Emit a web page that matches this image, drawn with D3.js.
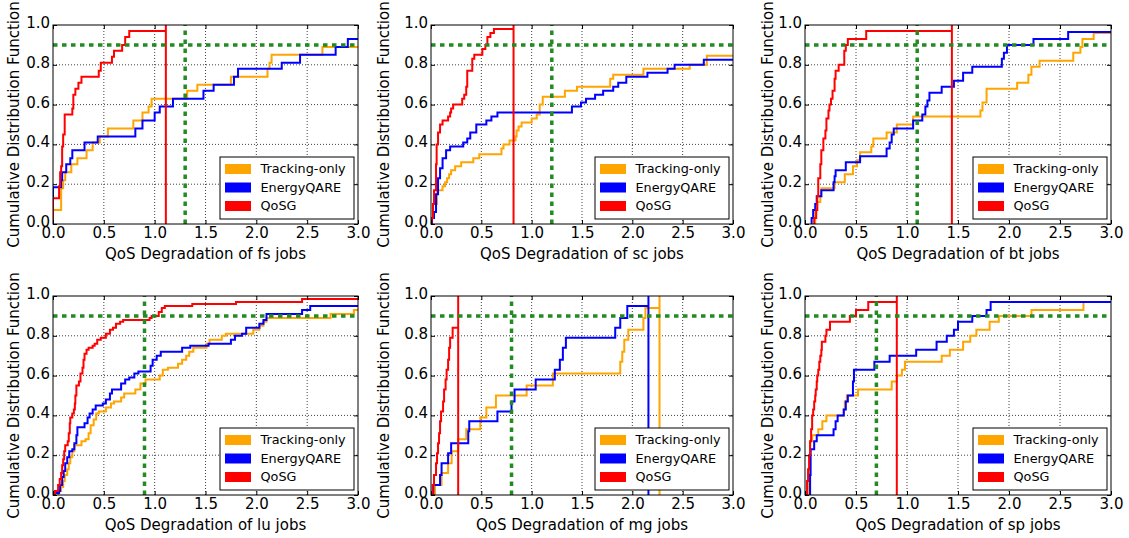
<!DOCTYPE html>
<html>
<head>
<meta charset="utf-8">
<script src="https://cdn.jsdelivr.net/npm/d3@7"></script>
<style>
body{margin:0;background:#fff;}
svg text{font-family:'DejaVu Sans',sans-serif;fill:#000;}
</style>
</head>
<body>
<svg id="chart"></svg>
<script>
//Categories, series and ticks
const jobTypes = ['fs','sc','bt','lu','mg','sp'];
const targetX = [1.3,1.2,1.1,0.9,0.8,0.7]; //green vertical marker per job type
const targetY = 0.9;
const seriesNames = ['Tracking-only','EnergyQARE','QoSG'];
const seriesColors = ['#ffa500','#0000ff','#ff0000'];
const xTicks = [0,0.5,1,1.5,2,2.5,3];
const yTicks = [0,0.2,0.4,0.6,0.8,1];

//CDF steps: [x where the step happens, cdf after the step]
const fsTracking = [[0,0.07],[0.08,0.18],[0.1,0.22],[0.12,0.26],[0.18,0.30],[0.24,0.33],[0.33,0.37],[0.39,0.41],[0.46,0.44],[0.54,0.48],[0.79,0.52],[0.88,0.56],[0.94,0.59],[0.97,0.63],[1.32,0.67],[1.42,0.70],[1.75,0.74],[2.11,0.78],[2.13,0.81],[2.15,0.85],[2.65,0.89]];
const fsEnergy = [[0,0.185],[0.08,0.22],[0.09,0.26],[0.13,0.30],[0.17,0.33],[0.19,0.37],[0.31,0.41],[0.44,0.44],[0.81,0.48],[0.88,0.52],[1.0,0.56],[1.05,0.59],[1.18,0.63],[1.48,0.67],[1.58,0.70],[1.78,0.74],[1.82,0.78],[2.25,0.81],[2.43,0.85],[2.78,0.89],[2.9,0.93]];
const fsQoSG = [[0,0.13],[0.06,0.19],[0.07,0.26],[0.08,0.29],[0.09,0.39],[0.1,0.45],[0.115,0.55],[0.19,0.58],[0.2,0.65],[0.22,0.68],[0.25,0.71],[0.28,0.74],[0.45,0.77],[0.47,0.81],[0.58,0.84],[0.6,0.87],[0.68,0.9],[0.71,0.94],[0.75,0.97],[1.11,1.0]];

const scTracking = [[0.01,0.03],[0.02,0.10],[0.06,0.17],[0.115,0.19],[0.14,0.21],[0.16,0.23],[0.18,0.25],[0.2,0.27],[0.24,0.29],[0.30,0.31],[0.42,0.33],[0.48,0.35],[0.70,0.38],[0.72,0.40],[0.78,0.42],[0.84,0.44],[0.85,0.47],[0.87,0.49],[0.9,0.51],[1.0,0.53],[1.05,0.55],[1.08,0.60],[1.11,0.64],[1.33,0.67],[1.45,0.69],[1.78,0.73],[1.81,0.75],[2.11,0.78],[2.57,0.80],[2.74,0.845]];
const scEnergy = [[0.01,0.03],[0.03,0.06],[0.05,0.15],[0.07,0.23],[0.09,0.28],[0.115,0.33],[0.15,0.37],[0.19,0.39],[0.32,0.41],[0.36,0.43],[0.39,0.46],[0.45,0.50],[0.55,0.52],[0.6,0.54],[0.66,0.56],[1.40,0.59],[1.49,0.61],[1.54,0.63],[1.63,0.65],[1.71,0.67],[1.81,0.69],[1.86,0.71],[1.94,0.74],[2.15,0.76],[2.35,0.78],[2.42,0.80],[2.71,0.825]];
const scQoSG = [[0.005,0.03],[0.02,0.10],[0.03,0.17],[0.05,0.30],[0.056,0.40],[0.07,0.46],[0.09,0.50],[0.115,0.52],[0.17,0.54],[0.19,0.56],[0.2,0.58],[0.22,0.60],[0.31,0.63],[0.33,0.65],[0.35,0.69],[0.36,0.77],[0.41,0.83],[0.43,0.85],[0.51,0.88],[0.54,0.90],[0.56,0.94],[0.59,0.96],[0.625,0.98],[0.82,1.0]];

const btTracking = [[0.1,0.07],[0.12,0.11],[0.15,0.14],[0.16,0.18],[0.29,0.21],[0.39,0.25],[0.47,0.29],[0.51,0.32],[0.54,0.36],[0.65,0.39],[0.67,0.43],[0.80,0.46],[0.90,0.50],[1.06,0.54],[1.72,0.57],[1.74,0.61],[1.78,0.68],[2.08,0.71],[2.19,0.75],[2.22,0.79],[2.30,0.82],[2.63,0.86],[2.70,0.89],[2.72,0.93],[2.83,0.96]];
const btEnergy = [[0.065,0.03],[0.08,0.07],[0.1,0.10],[0.115,0.14],[0.16,0.17],[0.28,0.21],[0.29,0.24],[0.30,0.27],[0.40,0.31],[0.54,0.34],[0.80,0.38],[0.83,0.41],[0.85,0.45],[0.87,0.48],[1.06,0.52],[1.15,0.55],[1.18,0.59],[1.20,0.62],[1.22,0.66],[1.34,0.69],[1.46,0.72],[1.55,0.76],[1.64,0.79],[1.93,0.83],[1.95,0.86],[1.98,0.90],[2.24,0.93],[2.58,0.965]];
const btQoSG = [[0.09,0.03],[0.11,0.07],[0.12,0.14],[0.13,0.23],[0.15,0.30],[0.16,0.37],[0.18,0.43],[0.2,0.47],[0.21,0.53],[0.23,0.57],[0.24,0.60],[0.255,0.63],[0.27,0.67],[0.29,0.73],[0.30,0.77],[0.33,0.80],[0.385,0.87],[0.40,0.90],[0.42,0.93],[0.60,0.97],[1.44,1.0]];

const luTracking = [[0.05,0.02],[0.08,0.04],[0.1,0.07],[0.115,0.10],[0.14,0.13],[0.155,0.16],[0.17,0.19],[0.19,0.22],[0.21,0.25],[0.28,0.27],[0.32,0.28],[0.35,0.31],[0.37,0.35],[0.4,0.38],[0.425,0.41],[0.45,0.42],[0.52,0.44],[0.57,0.46],[0.6,0.47],[0.67,0.49],[0.70,0.51],[0.81,0.53],[0.86,0.56],[0.91,0.58],[1.05,0.60],[1.08,0.63],[1.13,0.64],[1.23,0.66],[1.27,0.68],[1.31,0.70],[1.34,0.72],[1.38,0.74],[1.51,0.76],[1.54,0.78],[1.66,0.80],[1.70,0.81],[1.97,0.83],[2.03,0.85],[2.07,0.87],[2.10,0.89],[2.73,0.91],[2.96,0.93]];
const luEnergy = [[0.01,0.01],[0.06,0.02],[0.07,0.05],[0.09,0.09],[0.105,0.12],[0.12,0.16],[0.14,0.19],[0.16,0.22],[0.19,0.23],[0.21,0.26],[0.23,0.30],[0.24,0.34],[0.31,0.36],[0.34,0.39],[0.36,0.41],[0.39,0.43],[0.42,0.45],[0.49,0.46],[0.52,0.48],[0.56,0.51],[0.58,0.53],[0.67,0.56],[0.71,0.58],[0.75,0.59],[0.80,0.61],[0.84,0.62],[0.96,0.65],[0.98,0.68],[1.02,0.70],[1.06,0.72],[1.27,0.74],[1.35,0.75],[1.53,0.76],[1.75,0.78],[1.79,0.80],[1.86,0.81],[1.90,0.84],[2.03,0.86],[2.07,0.88],[2.10,0.91],[2.45,0.93],[2.53,0.95]];
const luQoSG = [[0.02,0.02],[0.05,0.05],[0.066,0.08],[0.08,0.11],[0.09,0.15],[0.1,0.18],[0.11,0.22],[0.12,0.25],[0.145,0.27],[0.155,0.31],[0.165,0.36],[0.17,0.39],[0.19,0.41],[0.205,0.43],[0.215,0.46],[0.22,0.50],[0.23,0.55],[0.255,0.57],[0.27,0.61],[0.29,0.64],[0.30,0.68],[0.31,0.71],[0.33,0.73],[0.35,0.74],[0.39,0.75],[0.41,0.76],[0.435,0.78],[0.47,0.79],[0.52,0.81],[0.56,0.83],[0.59,0.84],[0.62,0.86],[0.66,0.87],[0.69,0.88],[0.95,0.89],[0.97,0.90],[1.04,0.92],[1.07,0.94],[1.10,0.95],[1.37,0.96],[1.80,0.97],[2.45,0.985]];

const mgTracking = [[0.04,0.05],[0.105,0.11],[0.17,0.16],[0.205,0.22],[0.27,0.28],[0.35,0.33],[0.49,0.39],[0.55,0.44],[0.645,0.50],[0.95,0.55],[1.21,0.61],[1.88,0.67],[1.90,0.72],[1.92,0.78],[1.96,0.83],[2.11,0.89],[2.13,0.94],[2.27,1.0]];
const mgEnergy = [[0.023,0.05],[0.09,0.10],[0.105,0.16],[0.17,0.21],[0.20,0.26],[0.37,0.32],[0.38,0.37],[0.66,0.42],[0.80,0.47],[0.83,0.53],[1.04,0.58],[1.23,0.63],[1.28,0.68],[1.31,0.74],[1.34,0.79],[1.83,0.84],[1.88,0.89],[1.95,0.95],[2.16,1.0]];
const mgQoSG = [[0.017,0.05],[0.03,0.10],[0.05,0.16],[0.06,0.21],[0.07,0.26],[0.08,0.31],[0.09,0.37],[0.10,0.42],[0.12,0.47],[0.13,0.53],[0.145,0.58],[0.155,0.63],[0.17,0.68],[0.18,0.74],[0.19,0.79],[0.215,0.84],[0.27,1.0]];

const spTracking = [[0.04,0.13],[0.05,0.27],[0.07,0.30],[0.13,0.33],[0.17,0.37],[0.21,0.40],[0.38,0.43],[0.39,0.47],[0.41,0.50],[0.52,0.53],[0.85,0.57],[0.90,0.60],[0.95,0.63],[0.98,0.67],[1.34,0.70],[1.42,0.73],[1.55,0.77],[1.62,0.80],[1.68,0.83],[1.81,0.87],[1.90,0.90],[2.22,0.93],[2.73,0.97]];
const spEnergy = [[0.05,0.10],[0.055,0.23],[0.09,0.27],[0.115,0.30],[0.28,0.33],[0.30,0.37],[0.32,0.40],[0.38,0.43],[0.40,0.47],[0.42,0.50],[0.47,0.57],[0.48,0.63],[0.68,0.67],[0.83,0.70],[1.09,0.73],[1.29,0.77],[1.39,0.80],[1.46,0.83],[1.50,0.87],[1.64,0.90],[1.78,0.93],[1.82,0.97]];
const spQoSG = [[0.02,0.07],[0.03,0.13],[0.04,0.20],[0.05,0.27],[0.06,0.33],[0.07,0.40],[0.08,0.43],[0.09,0.47],[0.10,0.50],[0.105,0.53],[0.115,0.57],[0.12,0.60],[0.13,0.63],[0.14,0.67],[0.15,0.70],[0.16,0.73],[0.165,0.77],[0.20,0.80],[0.21,0.83],[0.245,0.87],[0.44,0.90],[0.50,0.93],[0.62,0.97],[0.90,1.0]];

const seriesByJob = [
	[fsTracking,fsEnergy,fsQoSG],
	[scTracking,scEnergy,scQoSG],
	[btTracking,btEnergy,btQoSG],
	[luTracking,luEnergy,luQoSG],
	[mgTracking,mgEnergy,mgQoSG],
	[spTracking,spEnergy,spQoSG]
];

//Set up DOM scaffolding
const width = 1129, height = 538;
const colX = [[53,358],[431,733],[805,1111]];
const rowY = [[25,224],[296,495]];
const ylabelX = [14,384,768];
const fontSize = 15;

const svg = d3.select('#chart')
	.attr('width',width)
	.attr('height',height);

svg.append('rect').attr('width',width).attr('height',height).attr('fill','#fff');

//hist-style outline: rise from 0 at the first step, drop back to 0 after the last one
function outline(steps){
	const pts = [[steps[0][0],0]].concat(steps);
	const last = steps[steps.length-1];
	if(last[1] >= 1) pts.push([last[0],0]);
	else pts.push([3.3,last[1]]);
	return pts;
}

jobTypes.forEach((job,i) => {
	const c = i % 3, r = Math.floor(i/3);
	const [l,rt] = colX[c];
	const [t,b] = rowY[r];

	const scaleX = d3.scaleLinear().domain([0,3]).range([l,rt]);
	const scaleY = d3.scaleLinear().domain([0,1]).range([b,t]);

	const plot = svg.append('g').attr('class','panel-'+job);

	plot.append('clipPath').attr('id','clip-'+job)
		.append('rect').attr('x',l).attr('y',t-1).attr('width',rt-l).attr('height',b-t+2);

	//grid
	plot.append('g').selectAll('line.gx')
		.data(xTicks.slice(1,-1))
		.enter().append('line')
		.attr('x1',d => scaleX(d)).attr('x2',d => scaleX(d))
		.attr('y1',t).attr('y2',b)
		.attr('stroke','#111').attr('stroke-width',0.8).attr('stroke-dasharray','1,2');
	plot.append('g').selectAll('line.gy')
		.data(yTicks.slice(1,-1))
		.enter().append('line')
		.attr('y1',d => scaleY(d)).attr('y2',d => scaleY(d))
		.attr('x1',l).attr('x2',rt)
		.attr('stroke','#111').attr('stroke-width',0.8).attr('stroke-dasharray','1,2');

	//steps
	const line = d3.line()
		.x(d => scaleX(d[0]))
		.y(d => scaleY(d[1]))
		.curve(d3.curveStepAfter);

	plot.append('g').attr('clip-path',`url(#clip-${job})`)
		.selectAll('path')
		.data(seriesByJob[i])
		.enter().append('path')
		.attr('d',d => line(outline(d)))
		.attr('fill','none')
		.attr('stroke',(d,k) => seriesColors[k])
		.attr('stroke-width',2);

	//green target markers
	const marks = plot.append('g').attr('clip-path',`url(#clip-${job})`);
	marks.append('line')
		.attr('x1',l).attr('x2',rt)
		.attr('y1',scaleY(targetY)).attr('y2',scaleY(targetY));
	marks.append('line')
		.attr('x1',scaleX(targetX[i])).attr('x2',scaleX(targetX[i]))
		.attr('y1',b).attr('y2',t);
	marks.selectAll('line')
		.attr('stroke','#228b22').attr('stroke-width',3.5).attr('stroke-dasharray','4.5,4.5');

	//axes
	const fmt = d3.format('.1f');
	const axisX = d3.axisBottom(scaleX).tickValues(xTicks).tickFormat(fmt).tickSizeInner(-4).tickSizeOuter(0).tickPadding(3);
	const axisY = d3.axisLeft(scaleY).tickValues(yTicks).tickFormat(fmt).tickSizeInner(-4).tickSizeOuter(0).tickPadding(3);
	const axisTop = d3.axisTop(scaleX).tickValues(xTicks).tickFormat('').tickSizeInner(-4).tickSizeOuter(0);
	const axisRight = d3.axisRight(scaleY).tickValues(yTicks).tickFormat('').tickSizeInner(-4).tickSizeOuter(0);

	[[axisX,`translate(0,${b})`],[axisY,`translate(${l},0)`],[axisTop,`translate(0,${t})`],[axisRight,`translate(${rt},0)`]]
		.forEach(([ax,tr],k) => {
			const node = plot.append('g').attr('transform',tr).call(ax);
			node.select('.domain').remove();
			node.selectAll('line').attr('stroke','#000');
			node.selectAll('text').attr('font-size',fontSize).attr('fill','#000').attr('font-family',"'DejaVu Sans',sans-serif");
			if(k === 1) node.selectAll('text').attr('dy','0.17em');
		});

	plot.append('rect')
		.attr('x',l).attr('y',t).attr('width',rt-l).attr('height',b-t)
		.attr('fill','none').attr('stroke','#000').attr('stroke-width',1);

	//labels
	plot.append('text')
		.attr('x',(l+rt)/2).attr('y',b+34.5)
		.attr('text-anchor','middle').attr('font-size',fontSize)
		.text(`QoS Degradation of ${job} jobs`);
	plot.append('text')
		.attr('transform',`translate(${ylabelX[c]},${(t+b)/2}) rotate(-90)`)
		.attr('dy','0.35em')
		.attr('text-anchor','middle').attr('font-size',fontSize)
		.text('Cumulative Distribution Function');

	//legend
	const lw = 134, lh = 62;
	const lx = rt - 4 - lw, ly = b - 5 - lh;
	const legend = plot.append('g').attr('transform',`translate(${lx},${ly})`);
	legend.append('rect').attr('width',lw).attr('height',lh)
		.attr('fill','#fff').attr('stroke','#000').attr('stroke-width',1);
	const items = legend.selectAll('g.item')
		.data(seriesNames)
		.enter().append('g')
		.attr('transform',(d,k) => `translate(0,${12 + k*18.5})`);
	items.append('rect')
		.attr('x',5).attr('y',-5).attr('width',26).attr('height',10)
		.attr('fill',(d,k) => seriesColors[k]);
	items.append('text')
		.attr('x',40.5).attr('dy','0.35em')
		.attr('font-size',12.8)
		.text(d => d);
});
</script>
</body>
</html>
